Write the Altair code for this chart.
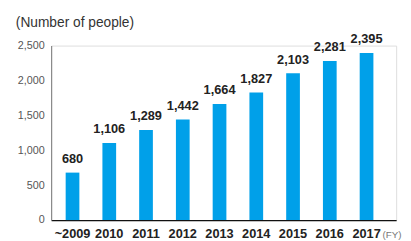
import altair as alt
import pandas as pd

years = ["~2009", "2010", "2011", "2012", "2013", "2014", "2015", "2016", "2017"]
people = [680, 1106, 1289, 1442, 1664, 1827, 2103, 2281, 2395]
y_ticks = [0, 500, 1000, 1500, 2000, 2500]

df = pd.DataFrame({"year": years, "people": people})

W, H = 352, 178
FONT = "Liberation Sans"
BLUE = "#00A0E9"

x = alt.X("year:N", sort=years, title=None,
          scale=alt.Scale(paddingInner=0.627, paddingOuter=0.507, align=0.39),
          axis=alt.Axis(labelAngle=0, labelFont=FONT, labelFontSize=13, labelFontWeight="bold",
                        labelColor="#222", ticks=False, labelPadding=8,
                        domainColor="#111", domainWidth=1.2))
y = alt.Y("people:Q", title=None,
          scale=alt.Scale(domain=[0, 2500], nice=False),
          axis=alt.Axis(values=y_ticks, format=",.0f", grid=False, ticks=False,
                        labelFont=FONT, labelFontSize=11, labelColor="#555",
                        labelPadding=7, domainColor="#888", domainWidth=1.2))

base = alt.Chart(df).encode(x=x, y=y)
bars = base.mark_bar(color=BLUE)
labels = base.mark_text(dy=-7, baseline="bottom", font=FONT, fontSize=13,
                        fontWeight="bold", color="#222").encode(
    text=alt.Text("people:Q", format=","))

sub = alt.Chart(pd.DataFrame({"t": ["(Number of people)"]})).mark_text(
    align="left", baseline="alphabetic", font=FONT, fontSize=14, color="#333").encode(
    x=alt.value(-36), y=alt.value(-19), text="t:N")
fy = alt.Chart(pd.DataFrame({"t": ["(FY)"]})).mark_text(
    align="left", baseline="alphabetic", font=FONT, fontSize=10, color="#777").encode(
    x=alt.value(338), y=alt.value(H + 18), text="t:N")

chart = alt.layer(bars, labels, sub, fy).properties(
    width=W, height=H,
    autosize=alt.AutoSizeParams(type="none"),
    padding={"left": 44, "top": 36, "right": 7, "bottom": 19},
).configure_view(stroke=None).configure(background="white")

chart.save("out.html", embed_options={"renderer": "svg", "actions": False})
